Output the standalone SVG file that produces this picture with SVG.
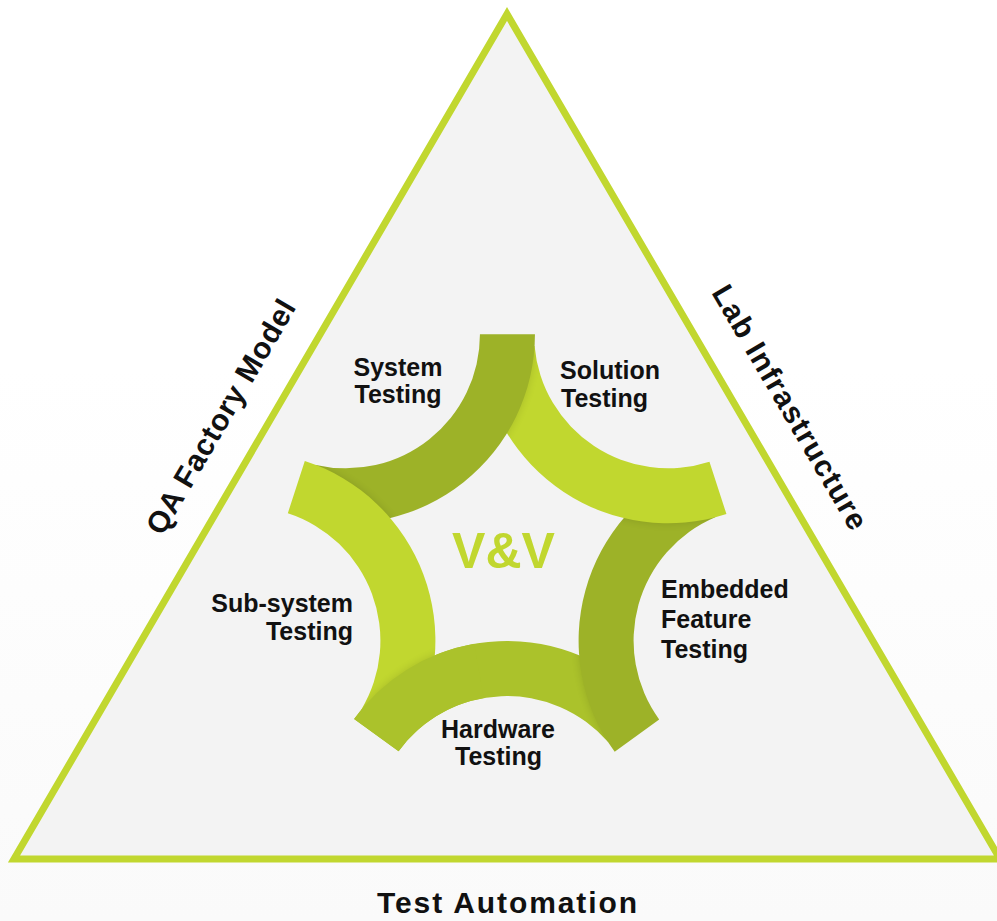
<svg xmlns="http://www.w3.org/2000/svg" xmlns:xlink="http://www.w3.org/1999/xlink" width="997" height="921" viewBox="0 0 997 921">
  <defs>
    <linearGradient id="bg" x1="0" y1="0" x2="0" y2="1">
      <stop offset="0" stop-color="#ffffff"/>
      <stop offset="0.4" stop-color="#ffffff"/>
      <stop offset="1" stop-color="#fafafa"/>
    </linearGradient>
    <filter id="sh" x="-20%" y="-20%" width="140%" height="140%">
      <feGaussianBlur stdDeviation="4"/>
    </filter>
    <path id="pSystem" d="M534.95,334.33 A189,189 0 0 1 303.43,518.49 L315.81,464.90 A134,134 0 0 0 479.95,334.33 Z"/>
    <path id="pSolution" d="M726.45,514.08 A189,189 0 0 1 479.77,350.80 L534.56,346.01 A134,134 0 0 0 709.46,461.77 Z"/>
    <path id="pEmbedded" d="M614.69,751.76 A189,189 0 0 1 693.74,466.70 L715.23,517.32 A134,134 0 0 0 659.18,719.43 Z"/>
    <path id="pHardware" d="M354.10,718.91 A189,189 0 0 1 649.64,706.00 L608.13,742.09 A134,134 0 0 0 398.59,751.24 Z"/>
    <path id="pHardwareStart" d="M354.10,718.91 A189,189 0 0 1 474.18,643.87 L483.73,698.04 A134,134 0 0 0 398.59,751.24 Z"/>
    <path id="pSub" d="M304.81,460.92 A189,189 0 0 1 408.41,738.01 L361.27,709.68 A134,134 0 0 0 287.82,513.23 Z"/>
    <clipPath id="cSolution"><use xlink:href="#pSolution"/></clipPath>
    <clipPath id="cSystem"><use xlink:href="#pSystem"/></clipPath>
    <clipPath id="cEmbedded"><use xlink:href="#pEmbedded"/></clipPath>
    <clipPath id="cHardware"><use xlink:href="#pHardware"/></clipPath>
    <clipPath id="cSub"><use xlink:href="#pSub"/></clipPath>
  </defs>
  <style>
    .lbl { font-family: "Liberation Sans", Arial, sans-serif; font-weight: bold; font-size: 25px; fill: #111111; }
    .side { font-family: "Liberation Sans", Arial, sans-serif; font-weight: bold; font-size: 30px; fill: #111111; }
    .vv { font-family: "Liberation Sans", Arial, sans-serif; font-weight: bold; font-size: 50px; fill: #c1d72f; }
    .light { fill: #c1d72f; }
    .dark { fill: #9db228; }
    .mid { fill: #abc22b; }
    .shadow { fill: #000000; opacity: 0.12; filter: url(#sh); }
  </style>

  <rect x="0" y="0" width="997" height="921" fill="url(#bg)"/>

  <g id="triangle">
    <polygon points="507,14 14,859 1000,859" fill="#f3f3f3" stroke="#c1d72f" stroke-width="7" stroke-linejoin="miter"/>
  </g>

  <g id="side-labels">
    <text class="side" transform="translate(229.6,422) rotate(-59.7)" text-anchor="middle" textLength="266" lengthAdjust="spacing">QA Factory Model</text>
    <text class="side" transform="translate(781.1,412.4) rotate(59.7)" text-anchor="middle" textLength="278" lengthAdjust="spacing">Lab Infrastructure</text>
    <text class="side" x="507" y="913" text-anchor="middle" textLength="260" lengthAdjust="spacing">Test Automation</text>
  </g>

  <g id="arcs">
    <g id="hardware">
      <use xlink:href="#pHardware" class="mid"/>
    </g>
    <g id="embedded">
      <g clip-path="url(#cHardware)"><use xlink:href="#pEmbedded" class="shadow"/></g>
      <use xlink:href="#pEmbedded" class="dark"/>
    </g>
    <g id="solution">
      <g clip-path="url(#cEmbedded)"><use xlink:href="#pSolution" class="shadow"/></g>
      <use xlink:href="#pSolution" class="light"/>
    </g>
    <g id="system">
      <g clip-path="url(#cSolution)"><use xlink:href="#pSystem" class="shadow"/></g>
      <use xlink:href="#pSystem" class="dark"/>
    </g>
    <g id="subsystem">
      <g clip-path="url(#cSystem)"><use xlink:href="#pSub" class="shadow"/></g>
      <use xlink:href="#pSub" class="light"/>
    </g>
    <g id="hardware-overlap">
      <g clip-path="url(#cSub)"><use xlink:href="#pHardwareStart" class="shadow"/></g>
      <use xlink:href="#pHardwareStart" class="mid"/>
    </g>
  </g>

  <g id="center">
    <text class="vv" x="503.5" y="568" text-anchor="middle">V&amp;V</text>
  </g>

  <g id="node-system">
    <text class="lbl" text-anchor="middle"><tspan x="398" y="376">System</tspan><tspan x="398" y="403">Testing</tspan></text>
  </g>
  <g id="node-solution">
    <text class="lbl"><tspan x="560" y="379">Solution</tspan><tspan x="561" y="407">Testing</tspan></text>
  </g>
  <g id="node-embedded">
    <text class="lbl"><tspan x="661" y="598">Embedded</tspan><tspan x="661" y="628">Feature</tspan><tspan x="661" y="658">Testing</tspan></text>
  </g>
  <g id="node-hardware">
    <text class="lbl" text-anchor="middle"><tspan x="498" y="738">Hardware</tspan><tspan x="498.5" y="765">Testing</tspan></text>
  </g>
  <g id="node-subsystem">
    <text class="lbl" text-anchor="end"><tspan x="353" y="612">Sub-system</tspan><tspan x="353" y="640">Testing</tspan></text>
  </g>
</svg>
